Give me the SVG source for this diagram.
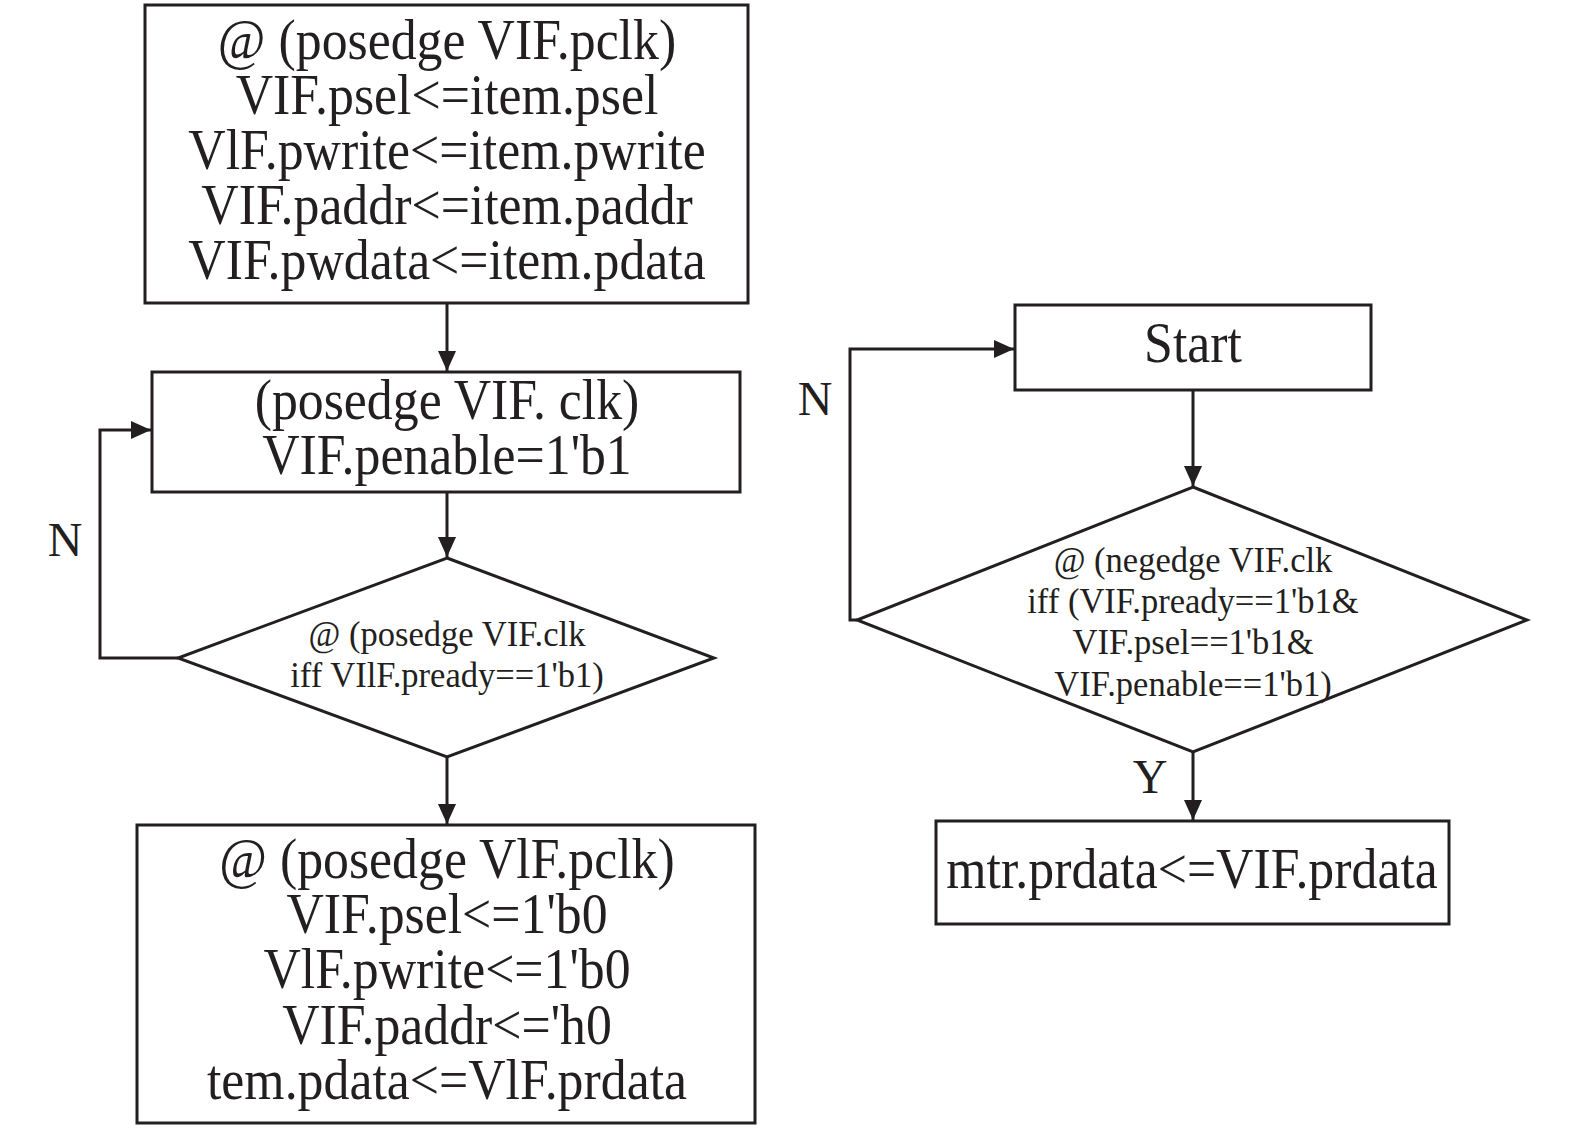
<svg xmlns="http://www.w3.org/2000/svg" width="1575" height="1130" viewBox="0 0 1575 1130">
<style>
.box{fill:#fff;stroke:#231f20;stroke-width:3}
.ln{fill:none;stroke:#231f20;stroke-width:3}
.big{font-family:"Liberation Serif","Times New Roman",serif;font-size:56px;fill:#231f20;text-anchor:middle}
.small{font-family:"Liberation Serif","Times New Roman",serif;font-size:36px;fill:#231f20;text-anchor:middle}
.lbl{font-family:"Liberation Serif","Times New Roman",serif;font-size:48px;fill:#231f20;text-anchor:middle}
</style>
<defs>
<marker id="arr" markerUnits="userSpaceOnUse" markerWidth="20" markerHeight="18" refX="20" refY="9" orient="auto">
<path d="M0,0 L20,9 L0,18 Z" fill="#231f20"/>
</marker>
</defs>
<rect width="1575" height="1130" fill="#fff"/>
<g id="connectors">
<line class="ln" x1="447" y1="303" x2="447" y2="371" marker-end="url(#arr)"/>
<line class="ln" x1="447" y1="492" x2="447" y2="557" marker-end="url(#arr)"/>
<polyline class="ln" points="178,658 100,658 100,430 151,430" marker-end="url(#arr)"/>
<line class="ln" x1="447" y1="757" x2="447" y2="824" marker-end="url(#arr)"/>
<line class="ln" x1="1193" y1="390" x2="1193" y2="486" marker-end="url(#arr)"/>
<polyline class="ln" points="857,620 850,620 850,349 1014,349" marker-end="url(#arr)"/>
<line class="ln" x1="1193" y1="752" x2="1193" y2="820" marker-end="url(#arr)"/>
<text class="lbl" x="65" y="556">N</text>
<text class="lbl" x="815" y="415">N</text>
<text class="lbl" x="1150" y="793">Y</text>
</g>
<g id="node1">
<rect class="box" x="145" y="5" width="603" height="298"/>
<g transform="translate(447 0) scale(0.925 1)">
<text class="big" x="0" y="59">@ (posedge VIF.pclk)</text>
<text class="big" x="0" y="114">VIF.psel&lt;=item.psel</text>
<text class="big" x="0" y="169">VlF.pwrite&lt;=item.pwrite</text>
<text class="big" x="0" y="224">VIF.paddr&lt;=item.paddr</text>
<text class="big" x="0" y="279">VIF.pwdata&lt;=item.pdata</text>
</g>
</g>
<g id="node2">
<rect class="box" x="152" y="372" width="588" height="120"/>
<g transform="translate(447 0) scale(0.925 1)">
<text class="big" x="0" y="419">(posedge VIF. clk)</text>
<text class="big" x="0" y="474">VIF.penable=1'b1</text>
</g>
</g>
<g id="node3">
<polygon class="box" points="447,558 714,658 447,757 178,658"/>
<g transform="translate(447 0) scale(0.96 1)">
<text class="small" x="0" y="646">@ (posedge VIF.clk</text>
<text class="small" x="0" y="687">iff VIlF.pready==1'b1)</text>
</g>
</g>
<g id="node4">
<rect class="box" x="137" y="825" width="618" height="298"/>
<g transform="translate(447 0) scale(0.925 1)">
<text class="big" x="0" y="878">@ (posedge VlF.pclk)</text>
<text class="big" x="0" y="933">VIF.psel&lt;=1'b0</text>
<text class="big" x="0" y="988">VlF.pwrite&lt;=1'b0</text>
<text class="big" x="0" y="1044">VIF.paddr&lt;='h0</text>
<text class="big" x="0" y="1099">tem.pdata&lt;=VlF.prdata</text>
</g>
</g>
<g id="node5">
<rect class="box" x="1015" y="305" width="356" height="85"/>
<g transform="translate(1193 0) scale(0.925 1)">
<text class="big" x="0" y="362">Start</text>
</g>
</g>
<g id="node6">
<polygon class="box" points="1193,487 1527,620 1193,752 857,620"/>
<g transform="translate(1193 0) scale(0.96 1)">
<text class="small" x="0" y="572">@ (negedge VIF.clk</text>
<text class="small" x="0" y="613">iff (VIF.pready==1'b1&amp;</text>
<text class="small" x="0" y="654">VIF.psel==1'b1&amp;</text>
<text class="small" x="0" y="696">VIF.penable==1'b1)</text>
</g>
</g>
<g id="node7">
<rect class="box" x="936" y="821" width="513" height="103"/>
<g transform="translate(1192 0) scale(0.925 1)">
<text class="big" x="0" y="888">mtr.prdata&lt;=VIF.prdata</text>
</g>
</g>
</svg>
